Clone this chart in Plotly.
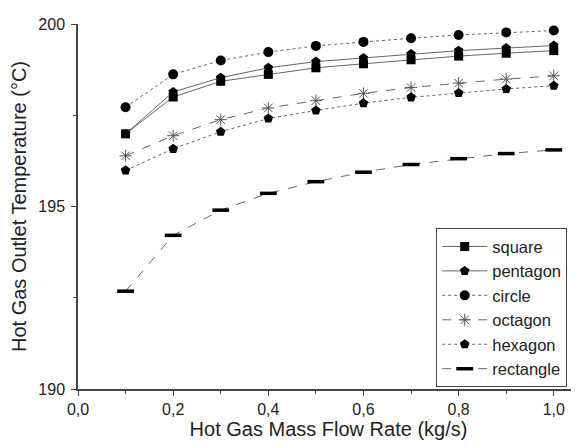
import plotly.graph_objects as go

flow_rate = [0.1, 0.2, 0.3, 0.4, 0.5, 0.6, 0.7, 0.8, 0.9, 1.0]
square = [196.99, 198.00, 198.43, 198.62, 198.80, 198.91, 199.02, 199.12, 199.20, 199.27]
pentagon = [196.99, 198.14, 198.53, 198.80, 198.97, 199.07, 199.18, 199.27, 199.34, 199.41]
circle = [197.72, 198.62, 199.00, 199.23, 199.40, 199.51, 199.61, 199.70, 199.77, 199.82]
octagon = [196.39, 196.94, 197.38, 197.70, 197.90, 198.10, 198.26, 198.38, 198.49, 198.58]
hexagon = [195.99, 196.58, 197.05, 197.41, 197.63, 197.83, 197.99, 198.11, 198.22, 198.31]
rectangle = [192.68, 194.21, 194.90, 195.36, 195.68, 195.94, 196.15, 196.31, 196.45, 196.55]

series = [
    ("square", square, "square", "solid", 9),
    ("pentagon", pentagon, "pentagon", "solid", 10),
    ("circle", circle, "circle", "dot", 10),
    ("octagon", octagon, "asterisk-open", "dash", 10),
    ("hexagon", hexagon, "pentagon", "dot", 10),
    ("rectangle", rectangle, "line-ew-open", "dash", 12),
]

fig = go.Figure()
for name, vals, sym, dash, size in series:
    if sym == "line-ew-open":
        marker = dict(symbol=sym, size=size, color="black", line=dict(color="black", width=3.5))
    elif sym == "asterisk-open":
        marker = dict(symbol=sym, size=size, color="#555", line=dict(color="#555", width=1))
    else:
        marker = dict(symbol=sym, size=size, color="black", line=dict(width=0))
    fig.add_trace(go.Scatter(
        x=flow_rate, y=vals, name=name, mode="lines+markers",
        line=dict(color="#666", width=1, dash=dash),
        marker=marker,
    ))

fig.update_layout(
    width=579, height=448,
    margin=dict(l=68, r=8, t=11, b=67),
    plot_bgcolor="white", paper_bgcolor="white",
    separators=",.",
    font=dict(family="Liberation Sans, Arial, sans-serif", color="#222"),
    showlegend=True,
    legend=dict(
        x=0.715, y=0.4405, xanchor="left", yanchor="top",
        bordercolor="#444", borderwidth=1, bgcolor="white",
        font=dict(size=16.5, color="#222"),
        tracegroupgap=0, itemwidth=45,
    ),
    xaxis=dict(
        range=[0, 1.053], tickmode="linear", tick0=0, dtick=0.2, tickformat=".1f",
        showgrid=False, zeroline=False,
        showline=True, linecolor="#444", linewidth=1.5,
        ticks="outside", ticklen=5, tickcolor="#444",
        minor=dict(ticks="outside", dtick=0.1, ticklen=3, tickcolor="#444", showgrid=False),
        tickfont=dict(size=16),
        title=dict(text="Hot Gas Mass Flow Rate (kg/s)", font=dict(size=20), standoff=4),
    ),
    yaxis=dict(
        range=[190, 200], tickmode="linear", tick0=190, dtick=5,
        showgrid=False, zeroline=False,
        showline=True, linecolor="#444", linewidth=1.5,
        ticks="outside", ticklen=5, tickcolor="#444",
        minor=dict(ticks="outside", dtick=2.5, ticklen=3, tickcolor="#444", showgrid=False),
        tickfont=dict(size=16),
        ticklabelstandoff=3,
        title=dict(text="Hot Gas Outlet Temperature (°C)", font=dict(size=20), standoff=8),
    ),
)

fig.write_html("out.html")
